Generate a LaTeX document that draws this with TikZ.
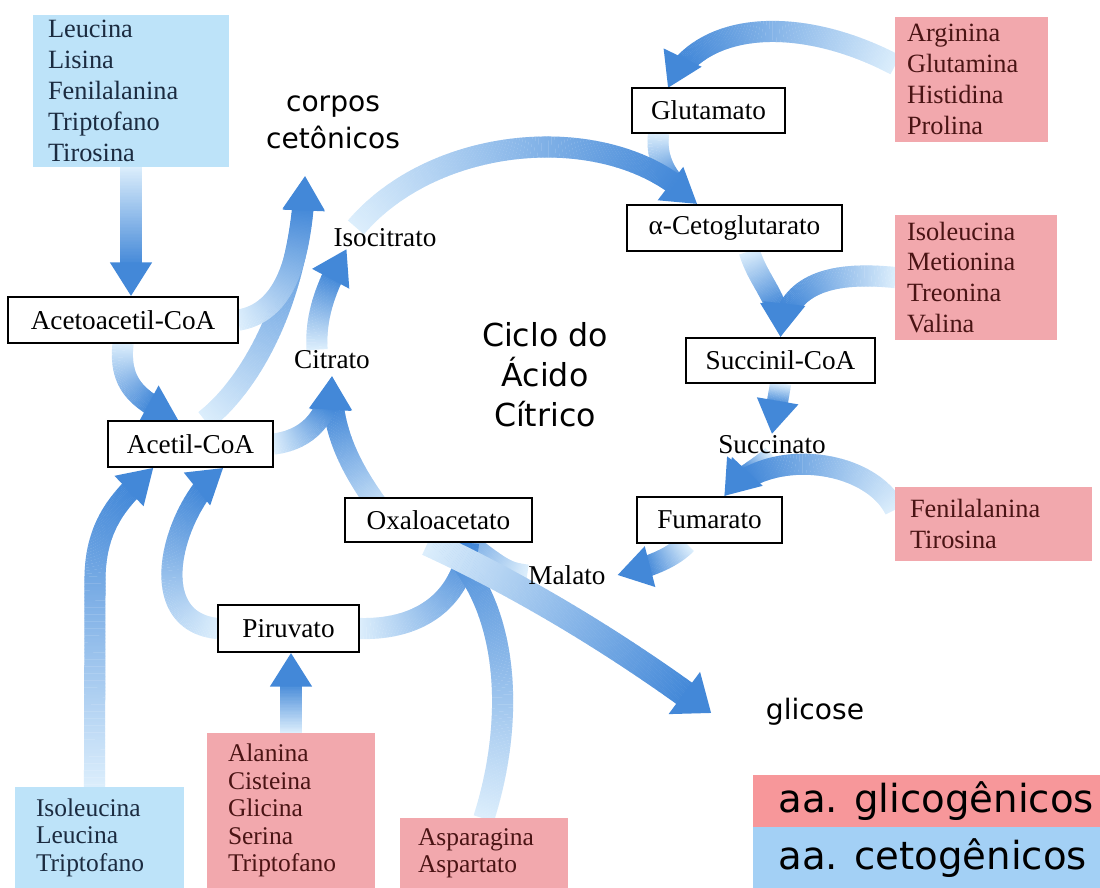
\documentclass[tikz,border=0pt]{standalone}
\usepackage{fontspec}
\setmainfont{Liberation Serif}
\newfontfamily\handfont{DejaVu Sans}
\usetikzlibrary{decorations.markings}

\pgfdeclarelayer{bg}
\pgfsetlayers{bg,main}

\definecolor{flowdark}{HTML}{4388D8}
\definecolor{flowlight}{HTML}{DCEEFC}
\definecolor{ketofill}{HTML}{BDE3F9}
\definecolor{ketotext}{HTML}{1B2B40}
\definecolor{glucofill}{HTML}{F2A8AD}
\definecolor{glucotext}{HTML}{4A1414}
\definecolor{legred}{HTML}{F7979A}
\definecolor{legblue}{HTML}{A3D0F5}

% setas largas com degrade (claro -> escuro)
\tikzset{
  flow/.style={
    decoration={markings,
      mark=between positions 0 and -17pt step 0.8pt with {%
        \pgfmathsetmacro\flowmix{min(100,max(0,100*(\pgfkeysvalueof{/pgf/decoration/mark info/distance from start}/(\pgfdecoratedpathlength-17))))}%
        \fill[flowdark!\flowmix!flowlight] (-0.5pt,-#1pt) rectangle (0.5pt,#1pt);},
      mark=at position -1pt with {%
        \fill[flowdark] (1pt,0pt) -- (-18pt,2*#1pt) -- (-18pt,-2*#1pt) -- cycle;}},
    decorate},
  flow/.default=6,
  band/.style={
    decoration={markings,
      mark=between positions 0 and 1 step 0.8pt with {%
        \pgfmathsetmacro\flowmix{min(100,max(0,100*(\pgfkeysvalueof{/pgf/decoration/mark info/distance from start}/\pgfdecoratedpathlength)))}%
        \fill[flowdark!\flowmix!flowlight] (-0.5pt,-#1pt) rectangle (0.5pt,#1pt);}},
    decorate},
  band/.default=6,
}

\begin{document}
\begin{tikzpicture}[x=0.02cm,y=-0.02cm,
  metab/.style={draw=black,line width=1.3pt,fill=white,inner sep=0pt,
    minimum height=0.92cm,font=\fontsize{15.5}{18}\selectfont},
  inter/.style={inner sep=1pt,font=\fontsize{15.5}{18}\selectfont},
  keto/.style={fill=ketofill,text=ketotext,align=left,inner ysep=0pt,
    font=\fontsize{15}{17.6}\selectfont},
  gluco/.style={fill=glucofill,text=glucotext,align=left,inner ysep=0pt,
    font=\fontsize{15}{17.6}\selectfont},
  low/.style={font=\fontsize{14.5}{15.6}\selectfont},
  hand/.style={align=center,font=\handfont\fontsize{16}{21}\selectfont},
  legtext/.style={inner sep=0pt,anchor=west,font=\handfont\fontsize{22}{26}\selectfont}]

  \useasboundingbox (0,0) rectangle (1100,888);

  % aminoacidos cetogenicos
  \node[keto,minimum width=3.92cm,minimum height=3.04cm,text width=3.32cm,inner xsep=0.3cm]
    (ketotop) at (131,91) {Leucina\\Lisina\\Fenilalanina\\Triptofano\\Tirosina};
  \node[keto,low,minimum width=3.38cm,minimum height=2.02cm,text width=2.54cm,inner xsep=0.42cm]
    (ketolow) at (99.5,837.5) {Isoleucina\\Leucina\\Triptofano};

  % aminoacidos glicogenicos
  \node[gluco,minimum width=3.06cm,minimum height=2.5cm,text width=2.58cm,inner xsep=0.24cm]
    (glucoarg) at (971.5,79.5) {Arginina\\Glutamina\\Histidina\\Prolina};
  \node[gluco,minimum width=3.24cm,minimum height=2.5cm,text width=2.76cm,inner xsep=0.24cm]
    (glucoile) at (976,277.5) {Isoleucina\\Metionina\\Treonina\\Valina};
  \node[gluco,minimum width=3.94cm,minimum height=1.48cm,text width=3.34cm,inner xsep=0.3cm]
    (glucofen) at (993.5,524) {Fenilalanina\\Tirosina};
  \node[gluco,low,minimum width=3.36cm,minimum height=3.1cm,text width=2.52cm,inner xsep=0.42cm]
    (glucoala) at (291,810.5) {Alanina\\Cisteina\\Glicina\\Serina\\Triptofano};
  \node[gluco,low,minimum width=3.36cm,minimum height=1.4cm,text width=2.64cm,inner xsep=0.36cm]
    (glucoasp) at (484,853) {Asparagina\\Aspartato};

  % intermediarios
  \node[metab,minimum width=4.6cm] (acac) at (123,320) {Acetoacetil-CoA};
  \node[metab,minimum width=3.3cm] (acetil) at (190.5,444) {Acetil-CoA};
  \node[metab,minimum width=2.82cm,minimum height=0.94cm] (piru) at (288.5,628.5) {Piruvato};
  \node[metab,minimum width=3.74cm,minimum height=0.88cm] (oxa) at (438.5,520) {Oxaloacetato};
  \node[metab,minimum width=2.9cm] (fum) at (709.5,520) {Fumarato};
  \node[metab,minimum width=3.78cm,minimum height=0.9cm] (succ) at (780.5,360.5) {Succinil-CoA};
  \node[metab,minimum width=4.3cm] (akg) at (734.5,228) {α-Cetoglutarato};
  \node[metab,minimum width=3.06cm,minimum height=0.9cm] (glu) at (708.5,110.5) {Glutamato};

  \node[inter] (isocit) at (385,238) {Isocitrato};
  \node[inter] (cit) at (332,360) {Citrato};
  \node[inter] (sucn) at (772,445) {Succinato};
  \node[inter] (mal) at (567,575) {Malato};

  % textos
  \node[hand] (ceto) at (333,122) {corpos\\cetônicos};
  \node[hand,font=\handfont\fontsize{18}{22.7}\selectfont] (ciclo) at (545,375) {Ciclo do\\Ácido\\Cítrico};
  \node[hand] (glc) at (815,712) {glicose};
  \coordinate (cetotip) at (305,177);

  % legenda
  \node[fill=legred,inner sep=0pt,minimum width=6.94cm,minimum height=1.04cm,anchor=north west]
    (legglico) at (753,775) {};
  \node[fill=legblue,inner sep=0pt,minimum width=6.94cm,minimum height=1.22cm,anchor=north west]
    (legceto) at (753,827) {};
  \node[legtext] (legglicotxt) at ([xshift=0.5cm]legglico.west) {aa. glicogênicos};
  \node[legtext] (legcetotxt) at ([xshift=0.5cm]legceto.west) {aa. cetogênicos};

  \begin{pgfonlayer}{bg}
    % faixas claras
    \path[band] (mal.west) .. controls (505,572) .. (oxa.center);
    \path[flow] ([xshift=-1cm]glu.south) .. controls (655,165) and (672,185) .. ([xshift=-0.75cm]akg.north);
    \path[flow] ([xshift=0.3cm]akg.south) .. controls (760,285) and (782,300) .. (succ.north);
    \path[flow] (sucn.south) .. controls (760,468) and (735,480) .. ([xshift=0.3cm]fum.north);
    \path[flow] ([xshift=0.3cm]acetil.north) .. controls (250,385) and (300,300) .. (cetotip);

    % ciclo
    \path[flow] ([xshift=-1cm]oxa.center) .. controls (350,470) and (330,430) .. ([yshift=-0.1cm]cit.south);
    \path[flow] ([xshift=-0.3cm]cit.north) .. controls (315,310) and (330,280) .. ([xshift=0.3cm]isocit.south west);
    \path[flow] ([xshift=0.5cm]isocit.north west) .. controls (440,130) and (620,120) .. ([xshift=-0.75cm]akg.north);
    \path[flow] (succ.south) -- (sucn.north);
    \path[flow] ([xshift=1cm]fum.south west) .. controls (670,560) and (645,568) .. ([xshift=0.2cm]mal.east);

    % entradas
    \path[flow] (ketotop.south) -- (ketotop.south |- acac.north);
    \path[flow] (acac.east) .. controls (285,312) and (302,260) .. (cetotip);
    \path[flow] (acac.south) .. controls (118,390) and (145,402) .. ([xshift=-0.25cm]acetil.north);
    \path[flow] (acetil.east) .. controls (305,440) and (330,420) .. ([yshift=-0.1cm]cit.south);
    \path[flow] ([xshift=-0.1cm]ketolow.north) -- (95,580) .. controls (95,520) and (125,495) .. ([xshift=-0.75cm]acetil.south);
    \path[flow] (piru.west) .. controls (140,620) and (175,505) .. ([xshift=0.65cm]acetil.south);
    \path[flow] (glucoala.north) -- (glucoala.north |- piru.south);
    \path[band] (piru.east) .. controls (420,630) and (462,600) .. ([xshift=0.6cm]oxa.south);
    \path[band] (glucoasp.north) .. controls (515,720) and (512,600) .. ([yshift=0.1cm]oxa.south);
    \path[flow=7.5] ([xshift=-0.2cm]oxa.south) .. controls (520,585) and (620,645) .. ([xshift=-1cm]glc.west);
    \path[flow] ([yshift=0.3cm]glucoarg.west) .. controls (800,15) and (700,20) .. ([xshift=-0.8cm]glu.north);
    \path[flow] (glucoile.west) .. controls (820,270) and (785,290) .. (succ.north);
    \path[flow] ([yshift=0.3cm]glucofen.west) .. controls (870,460) and (770,445) .. ([xshift=0.3cm]fum.north);
  \end{pgfonlayer}

\end{tikzpicture}
\end{document}
